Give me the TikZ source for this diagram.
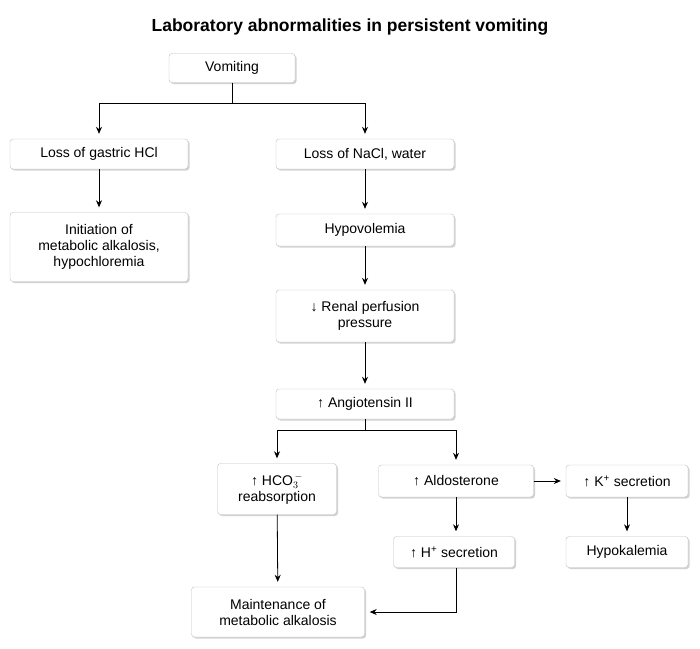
\documentclass[tikz,border=0pt]{standalone}
\usepackage{fontspec}
\setmainfont{Liberation Sans}
\usetikzlibrary{shadows,arrows.meta}
\begin{document}
\begin{tikzpicture}[x=1pt,y=-1pt,
  bx/.style={draw=black!25,fill=white,rounded corners=3pt,align=center,font=\fontsize{14}{16}\selectfont,inner sep=2pt,
    drop shadow={shadow xshift=1.5pt,shadow yshift=-1.5pt,fill=black!35}},
  ar/.style={-{Stealth[length=7pt,width=6pt]},shorten >=5pt},
  ln/.style={line width=0.8pt}]
\useasboundingbox (0,0) rectangle (700,648);
\node[font=\bfseries\fontsize{17.5}{20}\selectfont] (t) at (350,27) {Laboratory abnormalities in persistent vomiting};
\node[bx,minimum width=126,minimum height=29] (v) at (232,68) {Vomiting};
\node[bx,minimum width=178,minimum height=30] (hcl) at (99,154) {Loss of gastric HCl};
\node[bx,minimum width=178,minimum height=30] (nacl) at (365,154) {Loss of NaCl, water};
\node[bx,minimum width=178,minimum height=69] (ini) at (99,247) {Initiation of\\metabolic alkalosis,\\hypochloremia};
\node[bx,minimum width=178,minimum height=32] (hyp) at (365,230) {Hypovolemia};
\node[bx,minimum width=178,minimum height=52] (ren) at (365,316) {↓ Renal perfusion\\pressure};
\node[bx,minimum width=178,minimum height=30] (ang) at (365,404) {↑ Angiotensin II};
\node[bx,minimum width=119,minimum height=51] (hco) at (277,489) {↑ HCO$_3^{\,-}$\\reabsorption};
\node[bx,minimum width=155,minimum height=32] (ald) at (456,481) {↑ Aldosterone};
\node[bx,minimum width=122,minimum height=32] (k) at (627,481) {↑ K\textsuperscript{+} secretion};
\node[bx,minimum width=121,minimum height=31] (h) at (454,552) {↑ H\textsuperscript{+} secretion};
\node[bx,minimum width=122,minimum height=31] (hk) at (627,552) {Hypokalemia};
\node[bx,minimum width=173,minimum height=50] (m) at (278,612) {Maintenance of\\metabolic alkalosis};
\coordinate (j1) at (232,103);
\coordinate (j2) at (365,430);
\draw[ln] (v.south) -- (j1);
\draw[ln,ar] (j1) -| (hcl.north);
\draw[ln,ar] (j1) -| (nacl.north);
\draw[ln,ar] (hcl) -- (ini);
\draw[ln,ar] (nacl) -- (hyp);
\draw[ln,ar] (hyp) -- (ren);
\draw[ln,ar] (ren) -- (ang);
\draw[ln] (ang.south) -- (j2);
\draw[ln,ar] (j2) -| (hco.north);
\draw[ln,ar] (j2) -| (ald.north);
\draw[ln,ar] (ald) -- (k);
\draw[ln,ar] (k) -- (hk);
\draw[ln,ar] (ald.south) -- (h.north -| ald.south);
\draw[ln,ar] (hco) -- (m);
\draw[ln,ar] (h.south -| ald.south) |- (m.east);
\end{tikzpicture}
\end{document}
